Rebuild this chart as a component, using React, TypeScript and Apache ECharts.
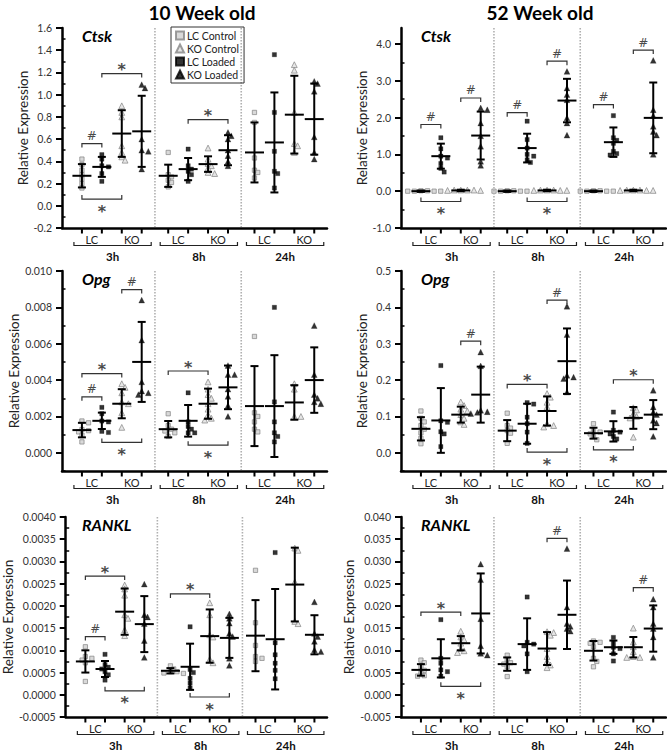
import React, { useEffect, useRef } from "react";
import * as echarts from "echarts";

// ---------------- labels ----------------
const GROUPS = ["LC Control", "LC Loaded", "KO Control", "KO Loaded"];
const LEGEND_ORDER = ["LC Control", "KO Control", "LC Loaded", "KO Loaded"];
const TIMES = ["3h", "8h", "24h"];
const PAIR_LABELS = ["LC", "KO"];
const AGE_TITLES = ["10 Week old", "52 Week old"];
const GENES = ["Ctsk", "Opg", "RANKL"];
const Y_NAME = "Relative Expression";

// group order inside each time point: LC Control, LC Loaded, KO Control, KO Loaded
// ---------------- Ctsk, 10 week ----------------
const ctsk10Points = [
  [0.42, 0.37, 0.32, 0.28, 0.24, 0.2, 0.16],
  [0.46, 0.42, 0.36, 0.35, 0.29, 0.22],
  [0.9, 0.84, 0.8, 0.54, 0.48, 0.44, 0.41],
  [1.09, 1.06, 0.6, 0.5, 0.49, 0.33],
  [0.48, 0.28, 0.26, 0.23, 0.21, 0.17],
  [0.51, 0.36, 0.33, 0.31, 0.28, 0.22],
  [0.52, 0.42, 0.38, 0.36, 0.34, 0.3, 0.29],
  [0.66, 0.63, 0.6, 0.5, 0.45, 0.4, 0.36],
  [0.84, 0.75, 0.43, 0.32, 0.3, 0.25],
  [1.36, 0.84, 0.49, 0.31, 0.29, 0.16],
  [1.27, 1.22, 0.84, 0.56, 0.54, 0.48],
  [1.12, 1.1, 1.03, 0.62, 0.48, 0.42],
];
const ctsk10Mean = [0.27, 0.35, 0.65, 0.67, 0.27, 0.33, 0.375, 0.5, 0.48, 0.57, 0.82, 0.78];
const ctsk10Sd = [0.105, 0.09, 0.21, 0.32, 0.1, 0.1, 0.07, 0.135, 0.27, 0.45, 0.35, 0.32];
const ctsk10Ticks = [-0.2, 0.0, 0.2, 0.4, 0.6, 0.8, 1.0, 1.2, 1.4, 1.6];
const ctsk10Sig = [
  { a: 0, b: 1, y: 0.56, dir: "above", label: "#" },
  { a: 0, b: 2, y: 0.06, dir: "below", label: "*" },
  { a: 1, b: 3, y: 1.19, dir: "above", label: "*" },
  { a: 5, b: 7, y: 0.775, dir: "above", label: "*" },
];

// ---------------- Ctsk, 52 week ----------------
const ctsk52Points = [
  [0.01, 0.0, 0.0, 0.01, 0.0, 0.0],
  [1.45, 1.15, 0.95, 0.9, 0.75, 0.62, 0.52],
  [0.03, 0.03, 0.02, 0.03, 0.02, 0.03],
  [2.26, 2.21, 1.85, 1.5, 1.22, 0.81, 0.7],
  [0.01, 0.0, 0.0, 0.01, 0.0, 0.0],
  [1.9, 1.4, 1.17, 1.0, 0.95, 0.85, 0.78],
  [0.03, 0.02, 0.03, 0.02, 0.03, 0.02],
  [3.25, 2.8, 2.62, 2.48, 1.99, 1.85, 1.52],
  [0.01, 0.0, 0.0, 0.01, 0.0, 0.0],
  [2.05, 1.45, 1.38, 1.3, 1.08, 1.02, 0.98],
  [0.03, 0.02, 0.03, 0.02, 0.03, 0.02],
  [3.55, 2.21, 2.05, 1.76, 1.62, 1.52, 1.0],
];
const ctsk52Mean = [0.0, 0.95, 0.02, 1.51, 0.0, 1.17, 0.02, 2.46, 0.0, 1.33, 0.02, 1.99];
const ctsk52Sd = [0.02, 0.34, 0.02, 0.65, 0.02, 0.39, 0.02, 0.59, 0.02, 0.4, 0.02, 0.96];
const ctsk52Ticks = [-1.0, 0.0, 1.0, 2.0, 3.0, 4.0];
const ctsk52Sig = [
  { a: 0, b: 1, y: 1.81, dir: "above", label: "#" },
  { a: 2, b: 3, y: 2.53, dir: "above", label: "#" },
  { a: 0, b: 2, y: -0.28, dir: "below", label: "*" },
  { a: 4, b: 5, y: 2.13, dir: "above", label: "#" },
  { a: 6, b: 7, y: 3.53, dir: "above", label: "#" },
  { a: 5, b: 7, y: -0.28, dir: "below", label: "*" },
  { a: 8, b: 9, y: 2.35, dir: "above", label: "#" },
  { a: 10, b: 11, y: 3.83, dir: "above", label: "#" },
];

// ---------------- Opg, 10 week ----------------
const opg10Points = [
  [0.00175, 0.00165, 0.00128, 0.00122, 0.00115, 0.00097, 0.0006],
  [0.0025, 0.00215, 0.00175, 0.0017, 0.00118, 0.00112],
  [0.0038, 0.0036, 0.0033, 0.0028, 0.0027, 0.0022, 0.0014],
  [0.0084, 0.0062, 0.0039, 0.0034, 0.0033, 0.0032],
  [0.00215, 0.0015, 0.0013, 0.0012, 0.0011, 0.0009],
  [0.0033, 0.0017, 0.00145, 0.0013, 0.0011, 0.0011],
  [0.0039, 0.0035, 0.0032, 0.003, 0.0027, 0.0024, 0.0021, 0.0019, 0.0018],
  [0.0048, 0.0043, 0.0043, 0.0035, 0.0031, 0.0026, 0.002],
  [0.0064, 0.0022, 0.002, 0.0017, 0.0013, 0.00115],
  [0.008, 0.0028, 0.0017, 0.0011, 0.0009, 0.0006],
  [0.0038, 0.0035, 0.002, 0.002],
  [0.007, 0.0043, 0.0032, 0.003, 0.0028, 0.0027],
];
const opg10Mean = [0.00125, 0.00176, 0.0027, 0.005, 0.0013, 0.00176, 0.0027, 0.0036, 0.00257, 0.00257, 0.00277, 0.004];
const opg10Sd = [0.0004, 0.00045, 0.0008, 0.0022, 0.00045, 0.00087, 0.00083, 0.0012, 0.0022, 0.0028, 0.00095, 0.0018];
const opg10Ticks = [0.0, 0.002, 0.004, 0.006, 0.008, 0.01];
const opg10Sig = [
  { a: 2, b: 3, y: 0.00898, dir: "above", label: "#" },
  { a: 0, b: 2, y: 0.00436, dir: "above", label: "*" },
  { a: 0, b: 1, y: 0.00308, dir: "above", label: "#" },
  { a: 1, b: 3, y: 0.00057, dir: "below", label: "*" },
  { a: 4, b: 6, y: 0.0045, dir: "above", label: "*" },
  { a: 5, b: 7, y: 0.00042, dir: "below", label: "*" },
];

// ---------------- Opg, 52 week ----------------
const opg52Points = [
  [0.115, 0.095, 0.085, 0.075, 0.065, 0.055, 0.04, 0.025],
  [0.24, 0.088, 0.084, 0.058, 0.052, 0.017],
  [0.14, 0.13, 0.12, 0.115, 0.105, 0.095, 0.085, 0.078],
  [0.277, 0.239, 0.117, 0.113, 0.111, 0.108],
  [0.109, 0.075, 0.068, 0.061, 0.054, 0.026],
  [0.138, 0.134, 0.098, 0.08, 0.057, 0.026],
  [0.163, 0.153, 0.139, 0.126, 0.08, 0.075, 0.071],
  [0.403, 0.325, 0.213, 0.208, 0.204, 0.167],
  [0.08, 0.062, 0.057, 0.052, 0.045, 0.036],
  [0.112, 0.062, 0.057, 0.052, 0.045, 0.038],
  [0.124, 0.118, 0.107, 0.1, 0.096, 0.043],
  [0.172, 0.126, 0.112, 0.105, 0.089, 0.082, 0.045],
];
const opg52Mean = [0.066, 0.089, 0.105, 0.16, 0.061, 0.08, 0.115, 0.252, 0.054, 0.059, 0.096, 0.105];
const opg52Sd = [0.032, 0.089, 0.022, 0.077, 0.029, 0.055, 0.04, 0.09, 0.015, 0.028, 0.03, 0.04];
const opg52Ticks = [0.0, 0.1, 0.2, 0.3, 0.4, 0.5];
const opg52Sig = [
  { a: 2, b: 3, y: 0.307, dir: "above", label: "#" },
  { a: 6, b: 7, y: 0.42, dir: "above", label: "#" },
  { a: 4, b: 6, y: 0.188, dir: "above", label: "*" },
  { a: 5, b: 7, y: 0.002, dir: "below", label: "*" },
  { a: 9, b: 11, y: 0.201, dir: "above", label: "*" },
  { a: 8, b: 10, y: 0.008, dir: "below", label: "*" },
];

// ---------------- RANKL, 10 week ----------------
const rankl10Points = [
  [0.00108, 0.00086, 0.00082, 0.00078, 0.00072, 0.0003],
  [0.00091, 0.00068, 0.00062, 0.00058, 0.00052, 0.00045, 0.00033],
  [0.00247, 0.00238, 0.00224, 0.0018, 0.00172, 0.00146, 0.00133],
  [0.00249, 0.0018, 0.00175, 0.0016, 0.00122, 0.00084],
  [0.00065, 0.00058, 0.00052, 0.00052, 0.00049, 0.00048],
  [0.00153, 0.00057, 0.0005, 0.00037, 0.00026, 0.00015],
  [0.00207, 0.0018, 0.00135, 0.0013, 0.0008, 0.00072],
  [0.00182, 0.00172, 0.00161, 0.00138, 0.00131, 0.00082, 0.00066],
  [0.0028, 0.00162, 0.00111, 0.00086, 0.00082, 0.00075],
  [0.0032, 0.00117, 0.0009, 0.00071, 0.00055, 0.00036],
  [0.0033, 0.00325, 0.00254, 0.00165, 0.0016],
  [0.00209, 0.00138, 0.00131, 0.0012, 0.00101, 0.00097],
];
const rankl10Mean = [0.00075, 0.00058, 0.00187, 0.00159, 0.00054, 0.00063, 0.00132, 0.00128, 0.00133, 0.00125, 0.00248, 0.00135];
const rankl10Sd = [0.00025, 0.00018, 0.00052, 0.00063, 0.00006, 0.00052, 0.0006, 0.00045, 0.0008, 0.00113, 0.00083, 0.00044];
const rankl10Ticks = [-0.0005, 0.0, 0.0005, 0.001, 0.0015, 0.002, 0.0025, 0.003, 0.0035, 0.004];
const rankl10Sig = [
  { a: 0, b: 2, y: 0.00267, dir: "above", label: "*" },
  { a: 0, b: 1, y: 0.00131, dir: "above", label: "#" },
  { a: 1, b: 3, y: 0.00009, dir: "below", label: "*" },
  { a: 4, b: 6, y: 0.00227, dir: "above", label: "*" },
  { a: 5, b: 7, y: -0.00005, dir: "below", label: "*" },
];

// ---------------- RANKL, 52 week ----------------
const rankl52Points = [
  [0.0078, 0.0072, 0.0063, 0.0055, 0.0048, 0.0043, 0.0042],
  [0.0169, 0.0082, 0.0071, 0.0056, 0.0052, 0.0042],
  [0.0143, 0.013, 0.0124, 0.0116, 0.0104, 0.0099, 0.0095],
  [0.0294, 0.0259, 0.0171, 0.011, 0.0093, 0.0089],
  [0.0089, 0.0078, 0.0072, 0.0069, 0.0063, 0.0041],
  [0.022, 0.0118, 0.0114, 0.011, 0.0092, 0.0052],
  [0.0142, 0.014, 0.0134, 0.0104, 0.0086, 0.0075, 0.0067, 0.0061],
  [0.0329, 0.0197, 0.016, 0.0154, 0.0149, 0.0143],
  [0.0121, 0.0118, 0.0116, 0.0108, 0.0082, 0.0075, 0.0063],
  [0.0129, 0.0117, 0.0107, 0.0104, 0.0092, 0.0076],
  [0.015, 0.0119, 0.0108, 0.0097, 0.0086, 0.0084, 0.0084],
  [0.0215, 0.0197, 0.016, 0.0149, 0.013, 0.0084],
];
const rankl52Mean = [0.0056, 0.0082, 0.0116, 0.0183, 0.0069, 0.0114, 0.0104, 0.018, 0.0099, 0.0107, 0.0107, 0.0149];
const rankl52Sd = [0.0013, 0.0043, 0.0016, 0.009, 0.0015, 0.0058, 0.0037, 0.0077, 0.0022, 0.0015, 0.0023, 0.0052];
const rankl52Ticks = [-0.005, 0.0, 0.005, 0.01, 0.015, 0.02, 0.025, 0.03, 0.035, 0.04];
const rankl52Sig = [
  { a: 0, b: 2, y: 0.0186, dir: "above", label: "*" },
  { a: 1, b: 3, y: 0.0019, dir: "below", label: "*" },
  { a: 6, b: 7, y: 0.0352, dir: "above", label: "#" },
  { a: 10, b: 11, y: 0.0241, dir: "above", label: "#" },
];

const PANELS = [
  { gene: 0, col: 0, row: 0, points: ctsk10Points, mean: ctsk10Mean, sd: ctsk10Sd, ticks: ctsk10Ticks, min: -0.2, max: 1.6, dec: 1, sig: ctsk10Sig },
  { gene: 0, col: 1, row: 0, points: ctsk52Points, mean: ctsk52Mean, sd: ctsk52Sd, ticks: ctsk52Ticks, min: -1.0, max: 4.43, dec: 1, sig: ctsk52Sig },
  { gene: 1, col: 0, row: 1, points: opg10Points, mean: opg10Mean, sd: opg10Sd, ticks: opg10Ticks, min: -0.001, max: 0.01, dec: 3, sig: opg10Sig },
  { gene: 1, col: 1, row: 1, points: opg52Points, mean: opg52Mean, sd: opg52Sd, ticks: opg52Ticks, min: -0.05, max: 0.5, dec: 1, sig: opg52Sig },
  { gene: 2, col: 0, row: 2, points: rankl10Points, mean: rankl10Mean, sd: rankl10Sd, ticks: rankl10Ticks, min: -0.0005, max: 0.004, dec: 4, sig: rankl10Sig },
  { gene: 2, col: 1, row: 2, points: rankl52Points, mean: rankl52Mean, sd: rankl52Sd, ticks: rankl52Ticks, min: -0.005, max: 0.04, dec: 3, sig: rankl52Sig },
];

// ---------------- layout ----------------
const FONT = "Lato, 'Open Sans', 'DejaVu Sans', sans-serif";
const X_MAX = 13.3;
const SEG_STEP = 4.33;
const GRID_LEFT = [62, 401];
const GRID_TOP = [28, 271, 517];
const GRID_W = 265;
const GRID_H = 200;
const PX_PER_X = GRID_W / X_MAX;

function groupX(i: number) {
  return 1 + Math.floor(i / 4) * SEG_STEP + (i % 4);
}

function swarmOffsets(values: number[], pxPerY: number): number[] {
  const order = values.map((_, i) => i).sort((a, b) => values[b] - values[a]);
  const placed: number[][] = [];
  const out = values.map(() => 0);
  const step = 3.3;
  const minD = 3.9;
  for (const i of order) {
    const y = values[i] * pxPerY;
    for (let k = 0; k < 40; k++) {
      const c = k === 0 ? 0 : (k % 2 ? 1 : -1) * Math.ceil(k / 2) * step;
      if (placed.every(([px, py]) => Math.hypot(px - c, py - y) >= minD)) {
        out[i] = c;
        placed.push([c, y]);
        break;
      }
    }
  }
  return out;
}

function minorTicks(ticks: number[], min: number, max: number) {
  const half = (ticks[1] - ticks[0]) / 2;
  const res: number[] = [];
  const eps = half * 0.01;
  for (let i = -1; i < ticks.length; i++) {
    const base = i < 0 ? ticks[0] - half * 2 : ticks[i];
    const v = base + half;
    if (v >= min - eps && v <= max + eps) res.push(v);
  }
  return res;
}

function buildOption() {
  const grid: any[] = [];
  const xAxis: any[] = [];
  const yAxis: any[] = [];
  const series: any[] = [];
  const graphic: any[] = [];

  PANELS.forEach((p, pi) => {
    grid.push({ left: GRID_LEFT[p.col], top: GRID_TOP[p.row], width: GRID_W, height: GRID_H });
    xAxis.push({
      type: "value",
      gridIndex: pi,
      min: 0,
      max: X_MAX,
      axisLine: { show: true, onZero: false, lineStyle: { color: "#000", width: 2.5 } },
      axisTick: { show: false },
      axisLabel: { show: false },
      splitLine: { show: false },
    });
    const yIdx = yAxis.length;
    yAxis.push({
      type: "value",
      gridIndex: pi,
      min: p.min,
      max: p.max,
      name: Y_NAME,
      nameLocation: "middle",
      nameGap: 32,
      nameTextStyle: { fontSize: 13.5, color: "#222", fontFamily: FONT },
      axisLine: { show: true, onZero: false, lineStyle: { color: "#000", width: 2.5 } },
      axisTick: { show: true, customValues: p.ticks, length: 6, lineStyle: { color: "#000", width: 2 } },
      axisLabel: {
        customValues: p.ticks,
        formatter: (v: number) => Number(v).toFixed(p.dec),
        fontSize: 10.5,
        color: "#333",
        margin: 10,
        fontFamily: FONT,
      },
      splitLine: { show: false },
    });
    yAxis.push({
      type: "value",
      gridIndex: pi,
      min: p.min,
      max: p.max,
      axisLine: { show: false },
      axisTick: { show: true, customValues: minorTicks(p.ticks, p.min, p.max), length: 3.5, lineStyle: { color: "#000", width: 1.5 } },
      axisLabel: { show: false },
      splitLine: { show: false },
    });

    const pxPerY = GRID_H / (p.max - p.min);

    // scatter points
    for (let j = 0; j < 4; j++) {
      const data: number[][] = [];
      for (let s = 0; s < 3; s++) {
        const gi = s * 4 + j;
        const vals = p.points[gi];
        const offs = swarmOffsets(vals, pxPerY);
        vals.forEach((v, k) => data.push([groupX(gi) + offs[k] / PX_PER_X, v]));
      }
      const gray = j % 2 === 0;
      series.push({
        type: "scatter",
        name: GROUPS[j],
        xAxisIndex: pi,
        yAxisIndex: yIdx,
        data,
        symbol: j < 2 ? "rect" : "triangle",
        symbolSize: j < 2 ? 4.3 : 5.8,
        itemStyle: gray
          ? { color: j < 2 ? "#cfcfcf" : "#e0e0e0", borderColor: "#858585", borderWidth: 0.9 }
          : { color: "#000", borderColor: "#000", borderWidth: 0.3 },
        silent: true,
        z: 2,
      });
    }

    // mean + SD
    series.push({
      type: "custom",
      xAxisIndex: pi,
      yAxisIndex: yIdx,
      z: 5,
      silent: true,
      data: p.mean.map((m, i) => [groupX(i), m, p.sd[i]]),
      encode: { x: 0, y: 1 },
      renderItem: (params: any, api: any) => {
        const x = api.value(0);
        const m = api.value(1);
        const s = api.value(2);
        const c = api.coord([x, m]);
        const t = api.coord([x, m + s]);
        const b = api.coord([x, m - s]);
        const st = { stroke: "#000", lineWidth: 2 };
        return {
          type: "group",
          children: [
            { type: "line", shape: { x1: c[0] - 9.5, y1: c[1], x2: c[0] + 9.5, y2: c[1] }, style: st },
            { type: "line", shape: { x1: c[0], y1: t[1], x2: c[0], y2: b[1] }, style: st },
            { type: "line", shape: { x1: c[0] - 4, y1: t[1], x2: c[0] + 4, y2: t[1] }, style: st },
            { type: "line", shape: { x1: c[0] - 4, y1: b[1], x2: c[0] + 4, y2: b[1] }, style: st },
          ],
        };
      },
    });

    // significance brackets
    series.push({
      type: "custom",
      xAxisIndex: pi,
      yAxisIndex: yIdx,
      z: 4,
      silent: true,
      data: p.sig.map((s) => [groupX(s.a), s.y]),
      encode: { x: 0, y: 1 },
      renderItem: (params: any, api: any) => {
        const s = p.sig[params.dataIndex];
        const p1 = api.coord([groupX(s.a), s.y]);
        const p2 = api.coord([groupX(s.b), s.y]);
        const d = s.dir === "above" ? 1 : -1;
        const isStar = s.label === "*";
        const ly = d > 0 ? p1[1] - (isStar ? 4 : 7.5) : p1[1] + (isStar ? 12 : 8);
        return {
          type: "group",
          children: [
            {
              type: "polyline",
              shape: { points: [[p1[0], p1[1] + 4 * d], [p1[0], p1[1]], [p2[0], p1[1]], [p2[0], p1[1] + 4 * d]] },
              style: { stroke: "#333", lineWidth: 1.2, fill: "none" },
            },
            {
              type: "text",
              x: (p1[0] + p2[0]) / 2,
              y: ly,
              style: {
                text: s.label,
                fill: "#4a4a4a",
                font: isStar ? "bold 16px 'DejaVu Sans', sans-serif" : "12px 'DejaVu Sans', sans-serif",
                align: "center",
                verticalAlign: "middle",
              },
            },
          ],
        };
      },
    });

    // x-axis decorations: ticks, LC/KO labels, time brackets, separators
    series.push({
      type: "custom",
      xAxisIndex: pi,
      yAxisIndex: yIdx,
      z: 3,
      silent: true,
      data: TIMES.map((_, s) => [1 + s * SEG_STEP + 1.5, p.min]),
      encode: { x: 0, y: 1 },
      renderItem: (params: any, api: any) => {
        const seg = params.dataIndex;
        const yBot = api.coord([0, p.min])[1];
        const yTop = api.coord([0, p.max])[1];
        const xs = [0, 1, 2, 3].map((j) => api.coord([groupX(seg * 4 + j), p.min])[0]);
        const children: any[] = [];
        xs.forEach((gx) =>
          children.push({ type: "line", shape: { x1: gx, y1: yBot, x2: gx, y2: yBot + 5.5 }, style: { stroke: "#000", lineWidth: 2 } })
        );
        PAIR_LABELS.forEach((lab, k) =>
          children.push({
            type: "text",
            x: (xs[2 * k] + xs[2 * k + 1]) / 2,
            y: yBot + 11.5,
            style: { text: lab, fill: "#222", font: `11px ${FONT}`, align: "center", verticalAlign: "middle" },
          })
        );
        const bx1 = xs[0] - 8;
        const bx2 = xs[3] + 9.5;
        children.push({
          type: "polyline",
          shape: { points: [[bx1, yBot + 14], [bx1, yBot + 17.5], [bx2, yBot + 17.5], [bx2, yBot + 14]] },
          style: { stroke: "#222", lineWidth: 1.2, fill: "none" },
        });
        children.push({
          type: "text",
          x: (bx1 + bx2) / 2,
          y: yBot + 28,
          style: { text: TIMES[seg], fill: "#111", font: `bold 11.5px ${FONT}`, align: "center", verticalAlign: "middle" },
        });
        if (seg > 0) {
          const sx = api.coord([groupX(seg * 4) - (SEG_STEP - 3) / 2, p.min])[0];
          children.push({
            type: "line",
            shape: { x1: sx, y1: yTop, x2: sx, y2: yBot - 1 },
            style: { stroke: "#b0b0b0", lineWidth: 1.6, lineDash: [1.5, 1.5] },
          });
        }
        return { type: "group", children };
      },
    });

    // gene label
    graphic.push({
      type: "text",
      x: GRID_LEFT[p.col] + 20,
      y: GRID_TOP[p.row] + 7,
      style: {
        text: GENES[p.gene],
        fill: "#000",
        font: `italic bold 16px ${FONT}`,
        align: "left",
        verticalAlign: "middle",
      },
    });
  });

  AGE_TITLES.forEach((t, c) =>
    graphic.push({
      type: "text",
      x: c === 0 ? 202 : 540,
      y: 12,
      style: { text: t, fill: "#000", font: `bold 19px ${FONT}`, align: "center", verticalAlign: "middle" },
    })
  );

  return {
    animation: false,
    backgroundColor: "#fff",
    textStyle: { fontFamily: FONT },
    grid,
    xAxis,
    yAxis,
    series,
    graphic,
    legend: {
      data: LEGEND_ORDER,
      orient: "vertical",
      left: 171,
      top: 27,
      padding: [3, 5, 3, 4],
      itemGap: 2,
      itemWidth: 8,
      itemHeight: 8,
      borderColor: "#333",
      borderWidth: 1,
      selectedMode: false,
      textStyle: { fontSize: 10.5, color: "#222", fontFamily: FONT, lineHeight: 10, padding: [0, 0, 0, -2] },
    },
  };
}

export default function App() {
  const ref = useRef<HTMLDivElement>(null);
  useEffect(() => {
    const chart = echarts.init(ref.current as HTMLDivElement, null, { renderer: "svg" });
    chart.setOption(buildOption() as any);
    return () => chart.dispose();
  }, []);
  return (
    <div
      ref={ref}
      style={{ position: "absolute", left: 0, top: 0, width: 667, height: 750, background: "#fff" }}
    />
  );
}
